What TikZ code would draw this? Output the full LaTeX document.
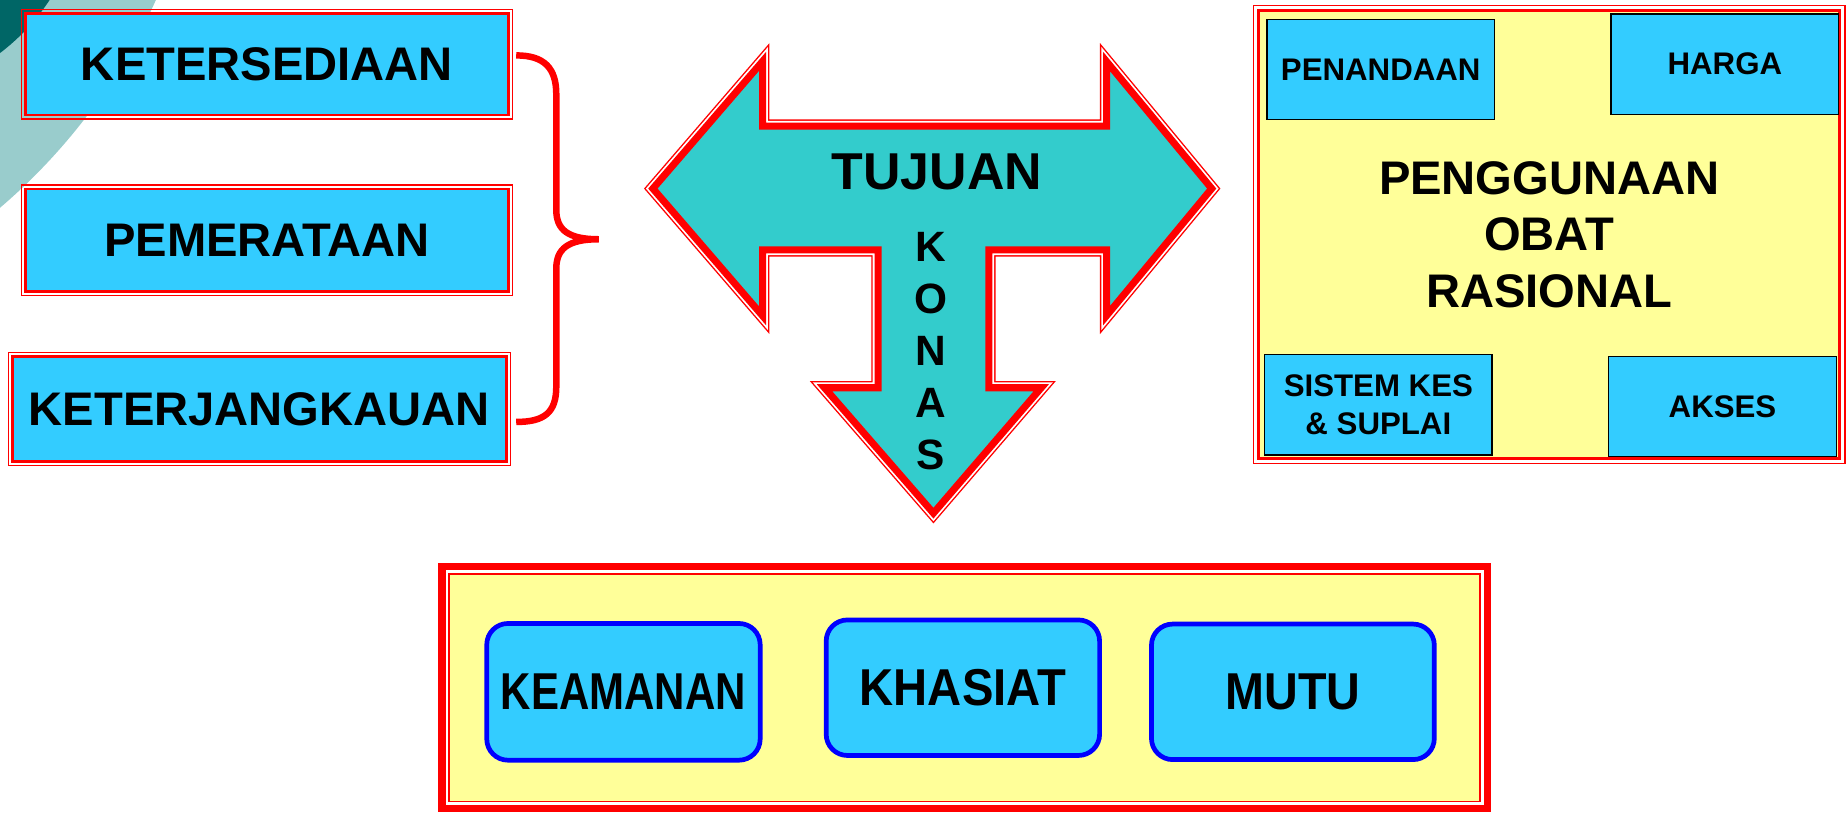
\documentclass[tikz,border=0pt]{standalone}
\usepackage{fontspec}
\setmainfont{Liberation Sans}
\usepackage{graphicx}
\definecolor{boxblue}{RGB}{51,204,255}
\definecolor{arrowteal}{RGB}{51,204,204}
\definecolor{paleyellow}{RGB}{255,255,153}
\definecolor{darkteal}{RGB}{0,102,102}
\definecolor{lightteal}{RGB}{153,204,204}
\newcommand{\tujuanshape}{(550,160) -- (650,44) -- (650,104) -- (936,104) -- (936,44)
  -- (1032,160) -- (936,276) -- (936,215) -- (842,215) -- (842,326) -- (890,326)
  -- (792,440) -- (693,326) -- (742,326) -- (742,215) -- (650,215) -- (650,276) -- cycle}
\begin{document}
\begin{tikzpicture}[x=1pt, y=-1pt,
  every node/.style = {font=\bfseries, inner sep=0pt, outer sep=0pt, align=center},
  sidebox/.style = {draw=red, line width=2.2pt, fill=boxblue,
    font=\bfseries\fontsize{40}{48}\selectfont},
  smallbox/.style = {draw=black, line width=1.2pt, fill=boxblue,
    minimum width=193pt, minimum height=85pt,
    font=\bfseries\fontsize{26.5}{32}\selectfont},
  sifatbox/.style = {draw=blue, line width=4pt, fill=boxblue, rounded corners=18pt,
    minimum width=232pt, minimum height=116pt,
    font=\bfseries\fontsize{44}{48}\selectfont},
  outerline/.style = {draw=red, line width=1pt}]
  \useasboundingbox (0,0) rectangle (1568,689);
  \fill[lightteal] (-325,-205) circle (501pt);
  \fill[darkteal] (-110,-100) circle (182pt);

  \node[sidebox, minimum width=410pt, minimum height=86pt] (ketersediaan) at (226.5,54.5) {KETERSEDIAAN};
  \node[sidebox, minimum width=410pt, minimum height=87pt] (pemerataan) at (226.5,204) {PEMERATAAN};
  \node[sidebox, minimum width=419pt, minimum height=89pt] (keterjangkauan) at (220,347) {KETERJANGKAUAN};
  \foreach \b in {ketersediaan,pemerataan,keterjangkauan}
    \draw[outerline] ([shift={(-3.5pt,3.5pt)}]\b.north west) rectangle ([shift={(3.5pt,-3.5pt)}]\b.south east);

  \draw[red, line width=5.5pt] (438,47) .. controls (462,47) and (472,58) .. (472,80) -- (472,178)
    .. controls (472,195) and (482,203) .. (508,203)
    .. controls (482,203) and (472,211) .. (472,228) -- (472,328)
    .. controls (472,350) and (462,358) .. (438,358);

  \path[fill=arrowteal, draw=red, line width=1.2pt, double=white, double distance=3pt] \tujuanshape;
  \begin{scope}
    \clip \tujuanshape;
    \draw[red, line width=12pt] \tujuanshape;
  \end{scope}
  \node[font=\bfseries\fontsize{44}{50}\selectfont] (tujuan) at (795,146) {TUJUAN};
  \node[font=\bfseries\fontsize{36}{44}\selectfont] (konas) at (790,298) {K\\O\\N\\A\\S};

  \node[draw=red, line width=2.5pt, fill=paleyellow, minimum width=493pt, minimum height=380pt,
    font=\bfseries\fontsize{40}{48}\selectfont] (porbox) at (1314.5,199) {PENGGUNAAN\\OBAT\\RASIONAL};
  \draw[outerline] ([shift={(-4.5pt,4.5pt)}]porbox.north west) rectangle ([shift={(4.5pt,-4.5pt)}]porbox.south east);
  \node[smallbox] (penandaan) at (1171.5,59) {PENANDAAN};
  \node[smallbox] (harga) at (1463.5,54.5) {HARGA};
  \node[smallbox] (sistem) at (1169.5,343.5) {SISTEM KES\\\& SUPLAI};
  \node[smallbox] (akses) at (1461.5,345) {AKSES};

  \node[draw=red, line width=1.5pt, fill=paleyellow, minimum width=875pt, minimum height=193pt] (mutubox) at (818.5,583.5) {};
  \draw[red, line width=6pt] ([shift={(-6pt,6pt)}]mutubox.north west) rectangle ([shift={(6pt,-6pt)}]mutubox.south east);
  \node[sifatbox] (keamanan) at (529,587) {\scalebox{0.81}[1]{KEAMANAN}};
  \node[sifatbox, minimum height=115pt] (khasiat) at (817,583.5) {\scalebox{0.91}[1]{KHASIAT}};
  \node[sifatbox, minimum width=240pt, minimum height=115pt] (mutu) at (1097,587) {\scalebox{0.9}[1]{MUTU}};
\end{tikzpicture}
\end{document}
